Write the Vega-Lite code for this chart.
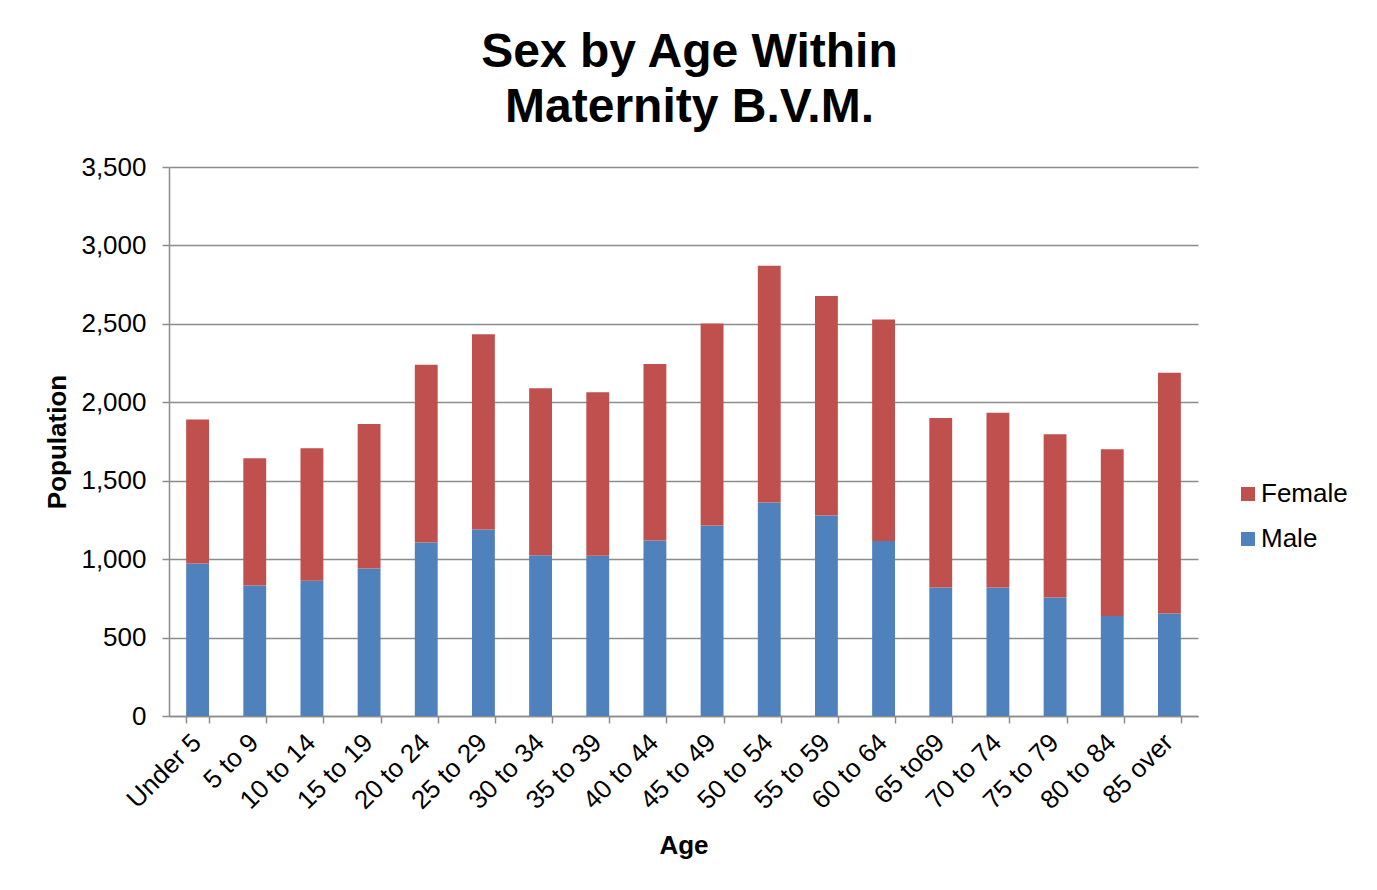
{
  "$schema": "https://vega.github.io/schema/vega-lite/v6.json",
  "width": 1029,
  "height": 549,
  "autosize": {"type": "none"},
  "padding": {"left": 169, "top": 167, "right": 179, "bottom": 174},
  "background": "white",
  "title": {
    "text": ["Sex by Age Within", "Maternity B.V.M."],
    "font": "Liberation Sans",
    "fontSize": 48,
    "fontWeight": "bold",
    "lineHeight": 55,
    "color": "black",
    "anchor": "middle",
    "frame": "group",
    "dx": 6,
    "offset": 22
  },
  "data": {
    "values": [
      {"age": "Under 5", "sex": "Male", "population": 972},
      {"age": "Under 5", "sex": "Female", "population": 918},
      {"age": "5 to 9", "sex": "Male", "population": 832},
      {"age": "5 to 9", "sex": "Female", "population": 811},
      {"age": "10 to 14", "sex": "Male", "population": 862},
      {"age": "10 to 14", "sex": "Female", "population": 845},
      {"age": "15 to 19", "sex": "Male", "population": 941},
      {"age": "15 to 19", "sex": "Female", "population": 921},
      {"age": "20 to 24", "sex": "Male", "population": 1106},
      {"age": "20 to 24", "sex": "Female", "population": 1134},
      {"age": "25 to 29", "sex": "Male", "population": 1189},
      {"age": "25 to 29", "sex": "Female", "population": 1244},
      {"age": "30 to 34", "sex": "Male", "population": 1025},
      {"age": "30 to 34", "sex": "Female", "population": 1064},
      {"age": "35 to 39", "sex": "Male", "population": 1021},
      {"age": "35 to 39", "sex": "Female", "population": 1043},
      {"age": "40 to 44", "sex": "Male", "population": 1119},
      {"age": "40 to 44", "sex": "Female", "population": 1125},
      {"age": "45 to 49", "sex": "Male", "population": 1215},
      {"age": "45 to 49", "sex": "Female", "population": 1288},
      {"age": "50 to 54", "sex": "Male", "population": 1361},
      {"age": "50 to 54", "sex": "Female", "population": 1510},
      {"age": "55 to 59", "sex": "Male", "population": 1278},
      {"age": "55 to 59", "sex": "Female", "population": 1399},
      {"age": "60 to 64", "sex": "Male", "population": 1115},
      {"age": "60 to 64", "sex": "Female", "population": 1412},
      {"age": "65 to69", "sex": "Male", "population": 820},
      {"age": "65 to69", "sex": "Female", "population": 1080},
      {"age": "70 to 74", "sex": "Male", "population": 820},
      {"age": "70 to 74", "sex": "Female", "population": 1114},
      {"age": "75 to 79", "sex": "Male", "population": 756},
      {"age": "75 to 79", "sex": "Female", "population": 1040},
      {"age": "80 to 84", "sex": "Male", "population": 637},
      {"age": "80 to 84", "sex": "Female", "population": 1064},
      {"age": "85 over", "sex": "Male", "population": 654},
      {"age": "85 over", "sex": "Female", "population": 1535}
    ]
  },
  "mark": {"type": "bar"},
  "encoding": {
    "x": {
      "field": "age",
      "type": "nominal",
      "sort": null,
      "scale": {"paddingInner": 0.6, "paddingOuter": 0.3},
      "axis": {
        "title": "Age",
        "labelAngle": -45,
        "labelAlign": "right",
        "labelBaseline": "middle",
        "labelFontSize": 26,
        "labelPadding": 15,
        "labelOffset": -1,
        "tickBand": "extent",
        "tickSize": 7,
        "titlePadding": 19
      }
    },
    "y": {
      "field": "population",
      "type": "quantitative",
      "aggregate": "sum",
      "stack": "zero",
      "scale": {"domain": [0, 3500]},
      "axis": {
        "title": "Population",
        "values": [0, 500, 1000, 1500, 2000, 2500, 3000, 3500],
        "format": ",d",
        "labelFontSize": 26,
        "tickSize": 7,
        "labelPadding": 16,
        "titlePadding": 10
      }
    },
    "color": {
      "field": "sex",
      "type": "nominal",
      "scale": {"domain": ["Female", "Male"], "range": ["#C0504D", "#4F81BD"]},
      "legend": {
        "title": null,
        "orient": "none",
        "legendX": 1066,
        "legendY": 314,
        "symbolType": "square",
        "symbolSize": 196,
        "symbolStrokeWidth": 0,
        "labelFontSize": 26,
        "labelOffset": 0,
        "rowPadding": 19,
        "padding": 0
      }
    },
    "order": {"field": "sex", "sort": "descending"}
  },
  "config": {
    "font": "Liberation Sans",
    "view": {"stroke": null},
    "axis": {
      "labelFont": "Liberation Sans",
      "labelColor": "black",
      "titleFont": "Liberation Sans",
      "titleFontSize": 26,
      "titleFontWeight": "bold",
      "titleColor": "black",
      "domainColor": "#8c8c8c",
      "domainWidth": 1.5,
      "tickColor": "#8c8c8c",
      "tickWidth": 1.5,
      "gridColor": "#8c8c8c",
      "gridWidth": 1.5
    },
    "axisX": {"grid": false},
    "axisY": {"grid": true, "domain": true},
    "legend": {"labelFont": "Liberation Sans", "labelColor": "black"}
  }
}
